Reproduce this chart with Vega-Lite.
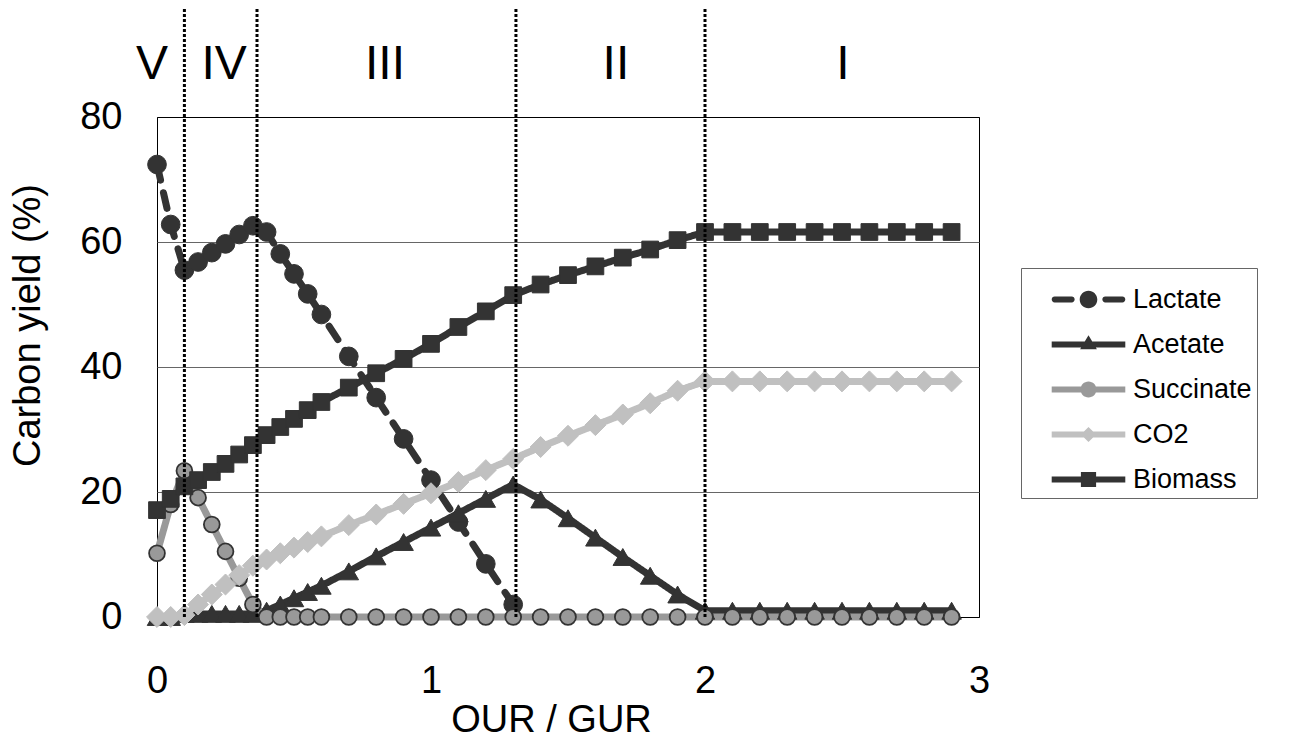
{
  "$schema": "https://vega.github.io/schema/vega-lite/v6.json",
  "width": 822,
  "height": 500,
  "autosize": {"type": "none"},
  "padding": {"left": 157, "top": 117, "right": 312, "bottom": 121},
  "background": "white",
  "config": {
    "font": "Liberation Sans",
    "view": {"stroke": "black", "strokeWidth": 1}
  },
  "datasets": {
    "series": [
      {"x":0,"s":"Lactate","v":72.4},{"x":0.05,"s":"Lactate","v":62.8},{"x":0.1,"s":"Lactate","v":55.5},{"x":0.15,"s":"Lactate","v":56.8},{"x":0.2,"s":"Lactate","v":58.3},{"x":0.25,"s":"Lactate","v":59.7},{"x":0.3,"s":"Lactate","v":61.2},{"x":0.35,"s":"Lactate","v":62.6},{"x":0.4,"s":"Lactate","v":61.6},{"x":0.45,"s":"Lactate","v":58.1},{"x":0.5,"s":"Lactate","v":54.9},{"x":0.55,"s":"Lactate","v":51.7},{"x":0.6,"s":"Lactate","v":48.4},{"x":0.7,"s":"Lactate","v":41.7},{"x":0.8,"s":"Lactate","v":35.1},{"x":0.9,"s":"Lactate","v":28.5},{"x":1.0,"s":"Lactate","v":21.9},{"x":1.1,"s":"Lactate","v":15.2},{"x":1.2,"s":"Lactate","v":8.5},{"x":1.3,"s":"Lactate","v":2.0},

      {"x":0,"s":"Acetate","v":0},{"x":0.05,"s":"Acetate","v":0},{"x":0.1,"s":"Acetate","v":0.5},{"x":0.15,"s":"Acetate","v":0.5},{"x":0.2,"s":"Acetate","v":0.5},{"x":0.25,"s":"Acetate","v":0.5},{"x":0.3,"s":"Acetate","v":0.5},{"x":0.35,"s":"Acetate","v":0.5},{"x":0.4,"s":"Acetate","v":1.0},{"x":0.45,"s":"Acetate","v":2.0},{"x":0.5,"s":"Acetate","v":3.0},{"x":0.55,"s":"Acetate","v":4.0},{"x":0.6,"s":"Acetate","v":5.0},{"x":0.7,"s":"Acetate","v":7.3},{"x":0.8,"s":"Acetate","v":9.7},{"x":0.9,"s":"Acetate","v":12.0},{"x":1.0,"s":"Acetate","v":14.3},{"x":1.1,"s":"Acetate","v":16.6},{"x":1.2,"s":"Acetate","v":18.9},{"x":1.3,"s":"Acetate","v":21.2},{"x":1.4,"s":"Acetate","v":18.8},{"x":1.5,"s":"Acetate","v":15.8},{"x":1.6,"s":"Acetate","v":12.7},{"x":1.7,"s":"Acetate","v":9.6},{"x":1.8,"s":"Acetate","v":6.6},{"x":1.9,"s":"Acetate","v":3.6},{"x":2.0,"s":"Acetate","v":1.0},{"x":2.1,"s":"Acetate","v":1.0},{"x":2.2,"s":"Acetate","v":1.0},{"x":2.3,"s":"Acetate","v":1.0},{"x":2.4,"s":"Acetate","v":1.0},{"x":2.5,"s":"Acetate","v":1.0},{"x":2.6,"s":"Acetate","v":1.0},{"x":2.7,"s":"Acetate","v":1.0},{"x":2.8,"s":"Acetate","v":1.0},{"x":2.9,"s":"Acetate","v":1.0},

      {"x":0,"s":"Succinate","v":10.2},{"x":0.05,"s":"Succinate","v":18.0},{"x":0.1,"s":"Succinate","v":23.4},{"x":0.15,"s":"Succinate","v":19.1},{"x":0.2,"s":"Succinate","v":14.8},{"x":0.25,"s":"Succinate","v":10.5},{"x":0.3,"s":"Succinate","v":6.2},{"x":0.35,"s":"Succinate","v":2.0},{"x":0.4,"s":"Succinate","v":0},{"x":0.45,"s":"Succinate","v":0},{"x":0.5,"s":"Succinate","v":0},{"x":0.55,"s":"Succinate","v":0},{"x":0.6,"s":"Succinate","v":0},{"x":0.7,"s":"Succinate","v":0},{"x":0.8,"s":"Succinate","v":0},{"x":0.9,"s":"Succinate","v":0},{"x":1.0,"s":"Succinate","v":0},{"x":1.1,"s":"Succinate","v":0},{"x":1.2,"s":"Succinate","v":0},{"x":1.3,"s":"Succinate","v":0},{"x":1.4,"s":"Succinate","v":0},{"x":1.5,"s":"Succinate","v":0},{"x":1.6,"s":"Succinate","v":0},{"x":1.7,"s":"Succinate","v":0},{"x":1.8,"s":"Succinate","v":0},{"x":1.9,"s":"Succinate","v":0},{"x":2.0,"s":"Succinate","v":0},{"x":2.1,"s":"Succinate","v":0},{"x":2.2,"s":"Succinate","v":0},{"x":2.3,"s":"Succinate","v":0},{"x":2.4,"s":"Succinate","v":0},{"x":2.5,"s":"Succinate","v":0},{"x":2.6,"s":"Succinate","v":0},{"x":2.7,"s":"Succinate","v":0},{"x":2.8,"s":"Succinate","v":0},{"x":2.9,"s":"Succinate","v":0},

      {"x":0,"s":"CO2","v":0},{"x":0.05,"s":"CO2","v":0},{"x":0.1,"s":"CO2","v":0.3},{"x":0.15,"s":"CO2","v":2.0},{"x":0.2,"s":"CO2","v":3.6},{"x":0.25,"s":"CO2","v":5.2},{"x":0.3,"s":"CO2","v":6.7},{"x":0.35,"s":"CO2","v":8.2},{"x":0.4,"s":"CO2","v":9.2},{"x":0.45,"s":"CO2","v":10.2},{"x":0.5,"s":"CO2","v":11.1},{"x":0.55,"s":"CO2","v":12.0},{"x":0.6,"s":"CO2","v":12.9},{"x":0.7,"s":"CO2","v":14.7},{"x":0.8,"s":"CO2","v":16.4},{"x":0.9,"s":"CO2","v":18.1},{"x":1.0,"s":"CO2","v":19.8},{"x":1.1,"s":"CO2","v":21.6},{"x":1.2,"s":"CO2","v":23.5},{"x":1.3,"s":"CO2","v":25.3},{"x":1.4,"s":"CO2","v":27.2},{"x":1.5,"s":"CO2","v":29.0},{"x":1.6,"s":"CO2","v":30.7},{"x":1.7,"s":"CO2","v":32.4},{"x":1.8,"s":"CO2","v":34.2},{"x":1.9,"s":"CO2","v":36.2},{"x":2.0,"s":"CO2","v":37.7},{"x":2.1,"s":"CO2","v":37.7},{"x":2.2,"s":"CO2","v":37.7},{"x":2.3,"s":"CO2","v":37.7},{"x":2.4,"s":"CO2","v":37.7},{"x":2.5,"s":"CO2","v":37.7},{"x":2.6,"s":"CO2","v":37.7},{"x":2.7,"s":"CO2","v":37.7},{"x":2.8,"s":"CO2","v":37.7},{"x":2.9,"s":"CO2","v":37.7},

      {"x":0,"s":"Biomass","v":17.1},{"x":0.05,"s":"Biomass","v":18.9},{"x":0.1,"s":"Biomass","v":20.9},{"x":0.15,"s":"Biomass","v":21.9},{"x":0.2,"s":"Biomass","v":23.2},{"x":0.25,"s":"Biomass","v":24.5},{"x":0.3,"s":"Biomass","v":26.0},{"x":0.35,"s":"Biomass","v":27.5},{"x":0.4,"s":"Biomass","v":29.1},{"x":0.45,"s":"Biomass","v":30.4},{"x":0.5,"s":"Biomass","v":31.7},{"x":0.55,"s":"Biomass","v":33.1},{"x":0.6,"s":"Biomass","v":34.4},{"x":0.7,"s":"Biomass","v":36.7},{"x":0.8,"s":"Biomass","v":39.0},{"x":0.9,"s":"Biomass","v":41.3},{"x":1.0,"s":"Biomass","v":43.7},{"x":1.1,"s":"Biomass","v":46.4},{"x":1.2,"s":"Biomass","v":48.9},{"x":1.3,"s":"Biomass","v":51.5},{"x":1.4,"s":"Biomass","v":53.2},{"x":1.5,"s":"Biomass","v":54.7},{"x":1.6,"s":"Biomass","v":56.1},{"x":1.7,"s":"Biomass","v":57.5},{"x":1.8,"s":"Biomass","v":58.8},{"x":1.9,"s":"Biomass","v":60.3},{"x":2.0,"s":"Biomass","v":61.6},{"x":2.1,"s":"Biomass","v":61.6},{"x":2.2,"s":"Biomass","v":61.6},{"x":2.3,"s":"Biomass","v":61.6},{"x":2.4,"s":"Biomass","v":61.6},{"x":2.5,"s":"Biomass","v":61.6},{"x":2.6,"s":"Biomass","v":61.6},{"x":2.7,"s":"Biomass","v":61.6},{"x":2.8,"s":"Biomass","v":61.6},{"x":2.9,"s":"Biomass","v":61.6}
    ],
    "bounds": [{"x":0.1},{"x":0.365},{"x":1.31},{"x":2.0}],
    "phases": [{"x":-0.018,"t":"V"},{"x":0.245,"t":"IV"},{"x":0.832,"t":"III"},{"x":1.675,"t":"II"},{"x":2.503,"t":"I"}]
  },
  "layer": [
    {
      "data": {"name": "series"},
      "mark": {"type": "line", "strokeWidth": 7, "strokeCap": "round", "strokeJoin": "round"},
      "encoding": {
        "x": {
          "field": "x", "type": "quantitative",
          "scale": {"domain": [0, 3], "nice": false, "zero": false},
          "axis": {
            "values": [0, 1, 2, 3], "format": "d", "grid": false, "ticks": false, "domain": false,
            "labelFontSize": 38, "labelColor": "black", "labelPadding": 45, "labelFlush": false,
            "title": "OUR / GUR", "titleFontSize": 38, "titleFontWeight": "normal", "titleColor": "black",
            "titleX": 394, "titleY": 114, "titleBaseline": "alphabetic", "titleAnchor": "middle", "titleAlign": "center"
          }
        },
        "y": {
          "field": "v", "type": "quantitative",
          "scale": {"domain": [0, 80], "nice": false},
          "axis": {
            "values": [0, 20, 40, 60, 80], "grid": true, "gridWidth": 1,
            "gridColor": {"condition": {"test": "datum.value === 0 || datum.value === 80", "value": "black"}, "value": "#666666"},
            "ticks": false, "domain": false,
            "labelFontSize": 38, "labelColor": "black", "labelPadding": 35,
            "title": "Carbon yield (%)", "titleFontSize": 38, "titleFontWeight": "normal", "titleColor": "black",
            "titleX": -129, "titleY": 208, "titleAngle": -90, "titleBaseline": "middle", "titleAlign": "center"
          }
        },
        "color": {
          "field": "s", "type": "nominal",
          "scale": {"domain": ["Lactate", "Acetate", "Succinate", "CO2", "Biomass"], "range": ["#333333", "#333333", "#999999", "#c0c0c0", "#333333"]},
          "legend": {
            "orient": "none", "legendX": 864, "legendY": 151,
            "title": " ", "titleFontSize": 10, "titlePadding": 3,
            "strokeColor": "#666666", "padding": 5,
            "labelFont": "Liberation Sans", "labelFontSize": 27, "labelColor": "black", "labelLimit": 300,
            "symbolSize": 256, "symbolStrokeWidth": 0, "symbolOffset": 49, "labelOffset": 31,
            "rowPadding": 17,
            "encode": {
              "symbols": {
                "update": {
                  "shape": {"signal": "datum.value === 'Lactate' ? 'M-4.24,-0.36L-2.09,-0.36A0.36,0.36 0 0 1 -2.09,0.36L-4.24,0.36A0.36,0.36 0 0 1 -4.24,-0.36ZM2.09,-0.36L4.24,-0.36A0.36,0.36 0 0 1 4.24,0.36L2.09,0.36A0.36,0.36 0 0 1 2.09,-0.36ZM-1.1,0A1.1,1.1 0 1 1 1.1,0A1.1,1.1 0 1 1 -1.1,0Z' : datum.value === 'Acetate' ? 'M-4.6,-0.36L4.6,-0.36L4.6,0.36L-4.6,0.36ZM0,-1.15L1.05,0.6L-1.05,0.6Z' : datum.value === 'Succinate' ? 'M-4.6,-0.36L4.6,-0.36L4.6,0.36L-4.6,0.36ZM-1,0A1,1 0 1 1 1,0A1,1 0 1 1 -1,0Z' : datum.value === 'CO2' ? 'M-4.6,-0.36L4.6,-0.36L4.6,0.36L-4.6,0.36ZM0,-0.95L0.95,0L0,0.95L-0.95,0Z' : 'M-4.6,-0.36L4.6,-0.36L4.6,0.36L-4.6,0.36ZM-0.95,-0.95L0.95,-0.95L0.95,0.95L-0.95,0.95Z'"},
                  "fill": {"signal": "datum.value === 'Succinate' ? '#999999' : datum.value === 'CO2' ? '#c0c0c0' : '#333333'"},
                  "stroke": {"value": "transparent"},
                  "strokeWidth": {"value": 0},
                  "strokeDash": {"value": [1, 0]},
                  "size": {"value": 256},
                  "opacity": {"value": 1}
                }
              }
            }
          }
        },
        "strokeDash": {
          "field": "s", "type": "nominal",
          "scale": {"domain": ["Lactate", "Acetate", "Succinate", "CO2", "Biomass"], "range": [[16, 13], [1, 0], [1, 0], [1, 0], [1, 0]]},
          "legend": null
        }
      }
    },
    {
      "data": {"name": "series"},
      "transform": [{"filter": "datum.s === 'Lactate'"}],
      "mark": {"type": "point", "filled": true, "opacity": 1, "shape": "circle", "size": 350, "fill": "#333333", "stroke": "#333333", "strokeWidth": 1},
      "encoding": {"x": {"field": "x", "type": "quantitative"}, "y": {"field": "v", "type": "quantitative"}}
    },
    {
      "data": {"name": "series"},
      "transform": [{"filter": "datum.s === 'Acetate'"}],
      "mark": {"type": "point", "filled": true, "opacity": 1, "shape": "triangle-up", "size": 380, "fill": "#333333", "stroke": "#333333", "strokeWidth": 1},
      "encoding": {"x": {"field": "x", "type": "quantitative"}, "y": {"field": "v", "type": "quantitative"}}
    },
    {
      "data": {"name": "series"},
      "transform": [{"filter": "datum.s === 'Succinate'"}],
      "mark": {"type": "point", "filled": true, "opacity": 1, "shape": "circle", "size": 250, "fill": "#999999", "stroke": "#333333", "strokeWidth": 1.8},
      "encoding": {"x": {"field": "x", "type": "quantitative"}, "y": {"field": "v", "type": "quantitative"}}
    },
    {
      "data": {"name": "series"},
      "transform": [{"filter": "datum.s === 'CO2'"}],
      "mark": {"type": "point", "filled": true, "opacity": 1, "shape": "diamond", "size": 440, "fill": "#c0c0c0", "stroke": "#c0c0c0", "strokeWidth": 1},
      "encoding": {"x": {"field": "x", "type": "quantitative"}, "y": {"field": "v", "type": "quantitative"}}
    },
    {
      "data": {"name": "series"},
      "transform": [{"filter": "datum.s === 'Biomass'"}],
      "mark": {"type": "point", "filled": true, "opacity": 1, "shape": "square", "size": 280, "fill": "#333333", "stroke": "#333333", "strokeWidth": 1},
      "encoding": {"x": {"field": "x", "type": "quantitative"}, "y": {"field": "v", "type": "quantitative"}}
    },
    {
      "data": {"name": "bounds"},
      "mark": {"type": "rule", "color": "black", "strokeWidth": 3, "strokeDash": [3, 2]},
      "encoding": {
        "x": {"field": "x", "type": "quantitative"},
        "y": {"datum": 0},
        "y2": {"datum": 97.4}
      }
    },
    {
      "data": {"name": "phases"},
      "mark": {"type": "text", "fontSize": 48, "color": "black", "align": "center", "baseline": "middle", "font": "Liberation Sans"},
      "encoding": {
        "x": {"field": "x", "type": "quantitative"},
        "y": {"datum": 88.3},
        "text": {"field": "t"}
      }
    }
  ]
}
